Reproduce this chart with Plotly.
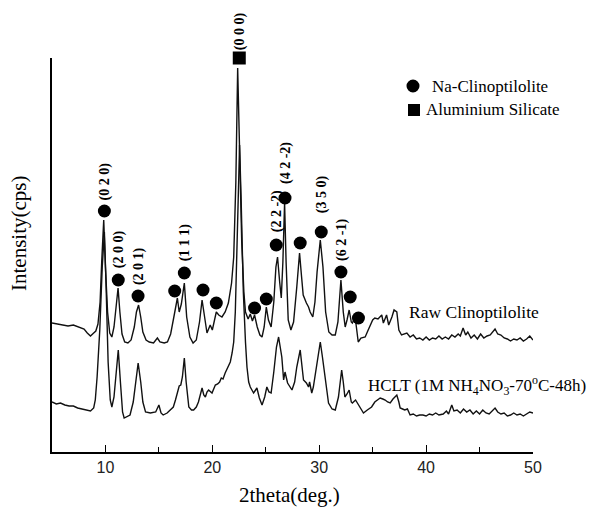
import plotly.graph_objects as go

# ---------------- data ----------------
raw_theta = [5.0, 5.5, 6.0, 6.5, 7.0, 7.5, 8.0, 8.3, 8.6, 8.9, 9.1, 9.3, 9.5, 9.65, 9.84, 10.0, 10.2, 10.4, 10.6, 10.8,
             11.0, 11.18, 11.35, 11.55, 11.8, 12.1, 12.4, 12.7, 12.9, 13.1, 13.3, 13.5, 13.8, 14.1, 14.5, 14.86, 15.1,
             15.5, 15.8, 16.1, 16.4, 16.73, 16.9, 17.1, 17.38, 17.6, 17.9, 18.2, 18.5, 18.8, 19.04, 19.25, 19.5, 19.8,
             20.0, 20.37, 20.6, 20.9, 21.2, 21.5, 21.8, 22.0, 22.2, 22.37, 22.55, 22.75, 22.95, 23.1, 23.35, 23.55,
             23.75, 23.95, 24.2, 24.45, 24.65, 24.85, 25.05, 25.25, 25.5, 25.75, 25.95, 26.1, 26.3, 26.45, 26.6, 26.76,
             26.9, 27.1, 27.35, 27.6, 27.9, 28.16, 28.35, 28.5, 28.8, 29.0, 29.15, 29.4, 29.6, 29.8, 30.1, 30.35, 30.6,
             30.9, 31.2, 31.5, 31.75, 32.03, 32.25, 32.43, 32.6, 32.8, 33.0, 33.1, 33.36, 33.5, 33.65, 33.9, 34.3, 34.5,
             34.77, 35.0, 35.2, 35.5, 35.85, 36.0, 36.3, 36.5, 36.8, 37.0, 37.26, 37.45, 37.7, 37.95, 38.2, 38.5, 38.8,
             39.1, 39.4, 39.7, 40.0, 40.3, 40.6, 40.9, 41.2, 41.5, 41.8, 42.1, 42.4, 42.7, 43.0, 43.2, 43.46, 43.7,
             43.9, 44.2, 44.5, 44.8, 45.1, 45.4, 45.7, 46.0, 46.2, 46.45, 46.7, 47.0, 47.3, 47.6, 47.9, 48.2, 48.5,
             48.8, 49.1, 49.4, 49.7, 50.0]
raw_int = [129, 128, 127, 126, 127, 125, 123, 119, 116, 119, 121, 128, 150, 190, 232, 185, 140, 119, 115, 125,
           145, 164, 140, 118, 110, 109, 112, 125, 140, 147, 135, 120, 112, 110, 109, 114, 110,
           109, 110, 118, 135, 154, 140, 148, 169, 135, 115, 109, 112, 130, 152, 135, 119, 127,
           122, 140, 137, 135, 140, 149, 169, 195, 270, 384, 300, 210, 160, 140, 133, 138,
           131, 137, 125, 117, 115, 125, 145, 132, 125, 150, 185, 195, 170, 154, 190, 249,
           190, 132, 122, 130, 165, 199, 175, 157, 149, 145, 140, 135, 150, 180, 212, 185, 140,
           120, 117, 117, 130, 172, 140, 125, 132, 142, 130, 129, 135, 125, 110, 114, 115, 120,
           127, 132, 134, 133, 137, 129, 137, 127, 135, 142, 140, 122, 117, 118, 119, 115, 117,
           113, 114, 112, 115, 112, 114, 113, 116, 113, 115, 113, 117, 115, 118, 116, 124, 117,
           120, 114, 117, 113, 118, 114, 116, 117, 120, 123, 118, 117, 114, 113, 111, 113, 112,
           114, 111, 113, 116, 112]

hclt_theta = [5.0, 5.4, 5.8, 6.2, 6.6, 7.0, 7.4, 7.8, 8.2, 8.6, 8.9, 9.05, 9.22, 9.47, 9.7, 9.9, 10.05, 10.25, 10.45,
              10.6, 10.8, 11.0, 11.2, 11.4, 11.6, 11.75, 12.0, 12.3, 12.6, 12.85, 13.06, 13.3, 13.5, 13.75, 14.2,
              14.7, 15.0, 15.2, 15.4, 15.77, 16.1, 16.35, 16.55, 16.7, 16.9, 17.05, 17.2, 17.38, 17.55, 17.8, 18.05,
              18.25, 18.5, 18.7, 18.9, 19.04, 19.2, 19.35, 19.5, 19.65, 19.97, 20.1, 20.28, 20.5, 20.68, 20.84, 21.0,
              21.2, 21.45, 21.68, 21.85, 22.0, 22.15, 22.35, 22.55, 22.7, 22.9, 23.1, 23.24, 23.4, 23.55, 23.86,
              24.17, 24.4, 24.65, 24.9, 25.1, 25.3, 25.5, 25.75, 26.0, 26.2, 26.4, 26.5, 26.67, 26.8, 27.04, 27.25,
              27.45, 27.7, 27.9, 28.22, 28.4, 28.53, 28.8, 29.0, 29.1, 29.3, 29.45, 29.63, 29.85, 30.1, 30.3, 30.55,
              30.87, 31.2, 31.5, 31.8, 32.1, 32.25, 32.4, 32.6, 32.8, 33.0, 33.1, 33.4, 33.66, 33.9, 34.14, 34.5,
              34.9, 35.2, 35.45, 35.7, 35.95, 36.17, 36.4, 36.64, 36.9, 37.26, 37.45, 37.57, 37.8, 38.0, 38.25, 38.5,
              38.8, 39.1, 39.4, 39.7, 40.0, 40.3, 40.6, 40.9, 41.2, 41.6, 41.9, 42.1, 42.4, 42.6, 42.9, 43.2, 43.5,
              43.8, 44.1, 44.4, 44.7, 45.0, 45.3, 45.6, 45.9, 46.2, 46.45, 46.7, 47.0, 47.3, 47.6, 47.9, 48.2, 48.5,
              48.8, 49.1, 49.4, 49.7, 50.0]
hclt_int = [50, 48, 49, 47, 46, 46, 44, 43, 42, 41, 44, 52, 75, 122, 185, 220, 170, 90, 52,
            45, 55, 80, 102, 70, 40, 34, 35, 37, 50, 75, 89, 70, 50, 40, 39,
            40, 47, 39, 37, 39, 42, 45, 52, 59, 66, 67, 75, 94, 70, 45, 42,
            42, 45, 50, 58, 64, 57, 55, 60, 62, 59, 63, 67, 68, 70, 74, 73,
            79, 85, 90, 99, 110, 140, 230, 307, 250, 160, 110, 85, 70, 65, 59,
            64, 54, 47, 55, 65, 60, 59, 80, 105, 115, 100, 95, 72, 80, 69, 65,
            62, 70, 85, 102, 85, 72, 69, 65, 70, 59, 65, 79, 95, 110, 95, 72,
            49, 43, 42, 55, 82, 70, 55, 58, 62, 50, 49, 52, 47, 43, 39, 42,
            45, 50, 52, 54, 53, 52, 50, 49, 53, 57, 50, 44, 43, 42, 43, 37,
            38, 36, 37, 37, 36, 38, 37, 39, 37, 38, 41, 38, 47, 41, 42, 39, 43,
            40, 42, 38, 41, 38, 42, 39, 38, 41, 44, 40, 38, 39, 36, 37, 39, 37,
            38, 36, 38, 40, 39]

clino_theta = [9.9, 11.2, 13.05, 16.48, 17.38, 19.13, 20.37, 23.95, 25.05, 25.98, 26.8, 28.22, 30.19, 32.03, 32.9, 33.67]
clino_int = [241, 172, 156, 161, 179, 162, 149, 144, 153, 207, 254, 209, 220, 180, 155, 134]

alsil_theta = [22.52]
alsil_int = [394]

hkl_labels = ["(0 2 0)", "(2 0 0)", "(2 0 1)", "(1 1 1)", "(2 2 -2)", "(4 2 -2)", "(3 5 0)", "(6 2 -1)", "(0 0 0)"]
hkl_theta = [9.9, 11.2, 13.05, 17.38, 25.98, 26.8, 30.19, 32.03, 22.52]
hkl_int = [241, 172, 156, 179, 207, 254, 220, 180, 394]

# ---------------- layout helpers (pixel -> paper) ----------------
W, H = 591, 508
L, R, T, B = 52, 58, 58, 56
PW, PH = W - L - R, H - T - B


def px(x):
    return (x - L) / PW


def py(y):
    return (H - B - y) / PH


SERIF = "Liberation Serif"
SANS = "Liberation Sans"

fig = go.Figure()
fig.add_trace(go.Scatter(x=raw_theta, y=raw_int, mode="lines", line=dict(color="#111", width=1.4),
                         showlegend=False, hoverinfo="skip"))
fig.add_trace(go.Scatter(x=hclt_theta, y=hclt_int, mode="lines", line=dict(color="#111", width=1.4),
                         showlegend=False, hoverinfo="skip"))
fig.add_trace(go.Scatter(x=clino_theta, y=clino_int, mode="markers",
                         marker=dict(symbol="circle", size=13, color="black"),
                         cliponaxis=False, showlegend=False, hoverinfo="skip"))
fig.add_trace(go.Scatter(x=alsil_theta, y=alsil_int, mode="markers",
                         marker=dict(symbol="square", size=13, color="black"),
                         cliponaxis=False, showlegend=False, hoverinfo="skip"))

annotations = []
gaps = [9, 10, 9, 10, 11, 12, 17, 9, 6]
for lab, th, it, g in zip(hkl_labels, hkl_theta, hkl_int, gaps):
    annotations.append(dict(x=th, y=it, xref="x", yref="y", text=lab, showarrow=False, textangle=-90,
                            yanchor="bottom", xanchor="center", yshift=g, xshift=1,
                            font=dict(family=SERIF, size=14, color="black", weight="bold")))

# legend texts
annotations.append(dict(x=px(430), y=py(86), xref="paper", yref="paper", text="Na-Clinoptilolite",
                        showarrow=False, xanchor="left", yanchor="middle",
                        font=dict(family=SERIF, size=17, color="black")))
annotations.append(dict(x=px(424), y=py(110), xref="paper", yref="paper", text="Aluminium Silicate",
                        showarrow=False, xanchor="left", yanchor="middle",
                        font=dict(family=SERIF, size=17, color="black")))
# curve labels
annotations.append(dict(x=px(407), y=py(312), xref="paper", yref="paper", text="Raw Clinoptilolite",
                        showarrow=False, xanchor="left", yanchor="middle",
                        font=dict(family=SERIF, size=17.5, color="black")))
annotations.append(dict(x=px(366), y=py(385), xref="paper", yref="paper",
                        text="HCLT (1M NH<sub>4</sub>NO<sub>3</sub>-70<sup>o</sup>C-48h)",
                        showarrow=False, xanchor="left", yanchor="middle",
                        font=dict(family=SERIF, size=17, color="black")))
# axis titles
annotations.append(dict(x=px(289), y=py(495), xref="paper", yref="paper", text="2theta(deg.)",
                        showarrow=False, xanchor="center", yanchor="middle",
                        font=dict(family=SERIF, size=21, color="black")))
annotations.append(dict(x=px(19), y=py(234), xref="paper", yref="paper", text="Intensity(cps)",
                        showarrow=False, xanchor="center", yanchor="middle", textangle=-90,
                        font=dict(family=SERIF, size=21, color="black")))

shapes = [
    dict(type="circle", xref="paper", yref="paper", x0=px(406.5), x1=px(419.5), y0=py(79.5), y1=py(92.5),
         fillcolor="black", line=dict(width=0)),
    dict(type="rect", xref="paper", yref="paper", x0=px(408), x1=px(420), y0=py(104), y1=py(116),
         fillcolor="black", line=dict(width=0)),
]

fig.update_layout(
    width=W, height=H,
    margin=dict(l=L, r=R, t=T, b=B, pad=0),
    paper_bgcolor="white", plot_bgcolor="white",
    annotations=annotations, shapes=shapes,
    xaxis=dict(range=[5, 50], tick0=0, dtick=10, ticks="inside", ticklen=7, tickwidth=1.3, tickcolor="black",
               showline=True, linecolor="black", linewidth=1.5, showgrid=False, zeroline=False,
               tickfont=dict(family=SANS, size=16, color="#222"),
               minor=dict(ticks="inside", ticklen=5, tickwidth=1.3, tickcolor="black", dtick=5, tick0=0,
                          showgrid=False)),
    yaxis=dict(range=[0, 394], showticklabels=False, ticks="", showline=True, linecolor="black", linewidth=1.5,
               showgrid=False, zeroline=False),
)

fig.write_html("out.html")
